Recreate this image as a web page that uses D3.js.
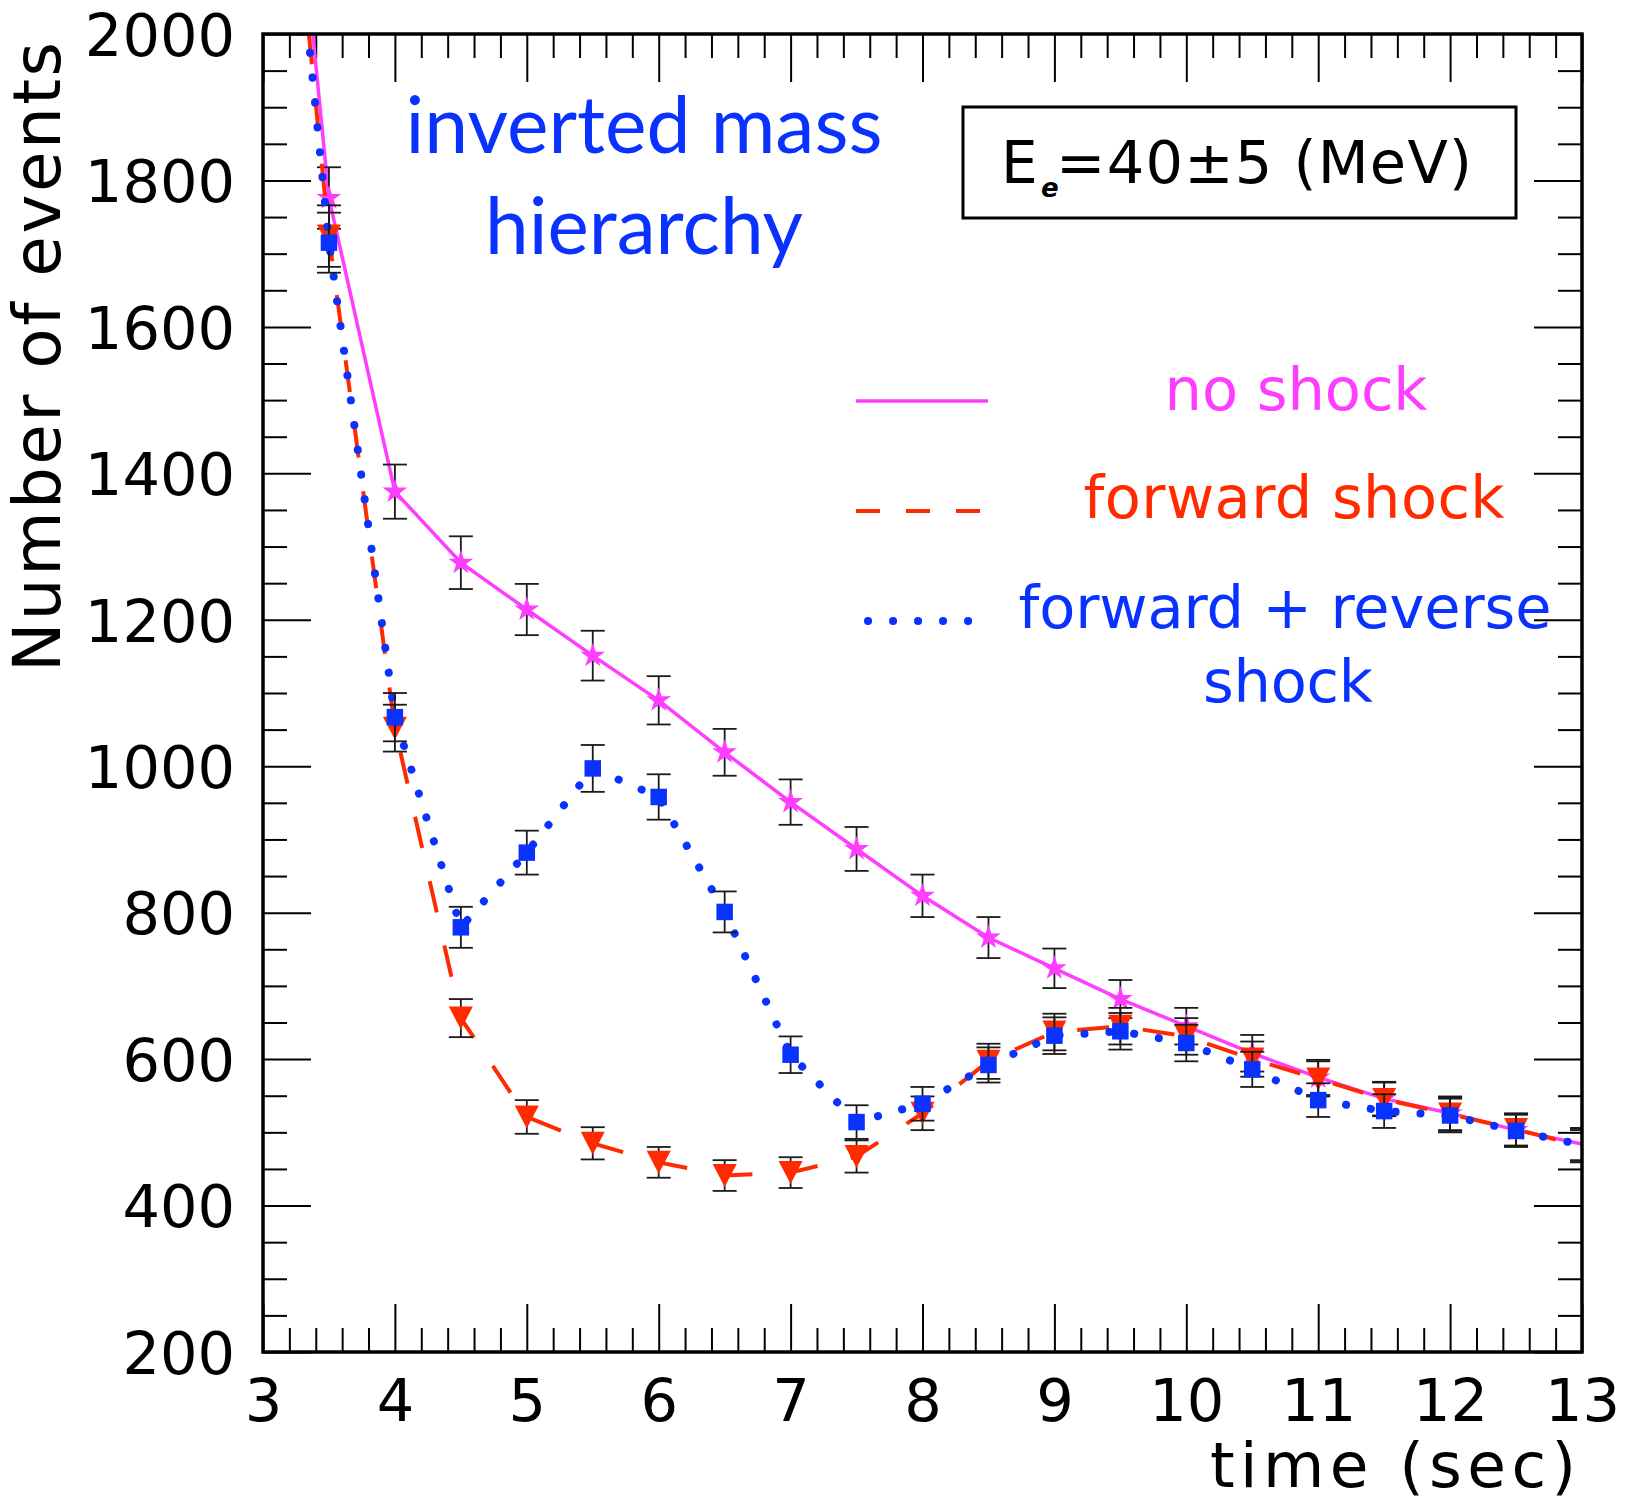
<!DOCTYPE html>
<html>
<head>
<meta charset="utf-8">
<script src="https://cdn.jsdelivr.net/npm/d3@7"></script>
<style>
  body { margin: 0; background: #fff; }
  svg { display: block; }
</style>
</head>
<body>
<div id="chart"></div>
<script>
// time bins (sec)
const times = [3, 3.5, 4, 4.5, 5, 5.5, 6, 6.5, 7, 7.5, 8, 8.5, 9, 9.5, 10, 10.5, 11, 11.5, 12, 12.5, 13];

// number of events per series
const noShock = [2690, 1776, 1375, 1278, 1214, 1151, 1090, 1019, 951, 887, 823, 766, 724, 682, 645, 608, 575, 546, 526, 503, 484];
const noShockErr = [52, 42, 37, 36, 35, 34, 33, 32, 31, 30, 29, 28, 27, 26, 25, 25, 24, 23, 23, 22, 22];

const forwardShock = [2630, 1724, 1052, 656, 521, 485, 459, 441, 445, 467, 526, 597, 637, 645, 631, 600, 573, 545, 525, 504, 481];
const forwardShockErr = [51, 42, 32, 26, 23, 22, 21, 21, 21, 22, 23, 24, 25, 25, 25, 24, 24, 23, 23, 22, 22];

const fwdRevShock = [2620, 1715, 1067, 780, 882, 997, 958, 801, 606, 514, 539, 592, 632, 638, 622, 586, 544, 529, 523, 502, 483];
const fwdRevShockErr = [51, 41, 33, 28, 30, 32, 31, 28, 25, 23, 23, 24, 25, 25, 25, 24, 23, 23, 23, 22, 22];

const xTicks = [3, 4, 5, 6, 7, 8, 9, 10, 11, 12, 13];
const yTicks = [200, 400, 600, 800, 1000, 1200, 1400, 1600, 1800, 2000];

const legendLabels = [["no shock"], ["forward shock"], ["forward + reverse", "shock"]];
const titleLines = ["inverted mass", "hierarchy"];

const W = 1633, H = 1504;
const margin = { top: 34, right: 51, bottom: 152, left: 263 };
const width = W - margin.left - margin.right;
const height = H - margin.top - margin.bottom;

const MAGENTA = "#ff3dff", RED = "#ff2a00", BLUE = "#0a32ff";
const FONT = "'DejaVu Sans', sans-serif";

const svg = d3.select("#chart").append("svg")
  .attr("width", W)
  .attr("height", H);

const g = svg.append("g")
  .attr("transform", "translate(" + margin.left + "," + margin.top + ")");

const x = d3.scaleLinear().domain([3, 13]).range([0, width]);
const y = d3.scaleLinear().domain([200, 2000]).range([height, 0]);

// minor tick positions
const xMinor = d3.range(3, 13.001, 0.2).filter(v => Math.abs(v - Math.round(v)) > 1e-6);
const yMinor = d3.range(200, 2001, 50).filter(v => v % 200 !== 0);

function tickAxis(axis, transform) {
  const a = g.append("g").attr("transform", transform).call(axis);
  a.select(".domain").remove();
  a.selectAll("line").attr("stroke", "#000").attr("stroke-width", 2);
  return a;
}

// labelled axes
const xAxis = tickAxis(d3.axisBottom(x).tickValues(xTicks).tickSize(-48).tickPadding(27).tickFormat(d3.format("d")),
  "translate(0," + height + ")");
const yAxis = tickAxis(d3.axisLeft(y).tickValues(yTicks).tickSize(-48).tickPadding(28).tickFormat(d3.format("d")),
  "translate(0,0)");
[xAxis, yAxis].forEach(a => a.selectAll("text")
  .attr("fill", "#000")
  .style("font-family", FONT)
  .style("font-size", "59px"));
yAxis.selectAll("text").attr("dy", "0.36em");

// minor ticks and mirrored ticks
tickAxis(d3.axisBottom(x).tickValues(xMinor).tickSize(-24).tickFormat(""), "translate(0," + height + ")");
tickAxis(d3.axisLeft(y).tickValues(yMinor).tickSize(-24).tickFormat(""), "translate(0,0)");
tickAxis(d3.axisTop(x).tickValues(xTicks).tickSize(-48).tickFormat(""), "translate(0,0)");
tickAxis(d3.axisTop(x).tickValues(xMinor).tickSize(-24).tickFormat(""), "translate(0,0)");
tickAxis(d3.axisRight(y).tickValues(yTicks).tickSize(-48).tickFormat(""), "translate(" + width + ",0)");
tickAxis(d3.axisRight(y).tickValues(yMinor).tickSize(-24).tickFormat(""), "translate(" + width + ",0)");

// clip
svg.append("defs").append("clipPath").attr("id", "plotClip")
  .append("rect").attr("x", 0).attr("y", 0).attr("width", width).attr("height", height);

const plot = g.append("g").attr("clip-path", "url(#plotClip)");

const starPath = d3.symbol(d3.symbolStar, 190)();
const squarePath = d3.symbol(d3.symbolSquare, 16.5 * 16.5)();
const triDownPath = "M-12,-11.5L12,-11.5L0,11.5Z";

const series = [
  { values: noShock, errors: noShockErr, color: MAGENTA, width: 3.5, dash: null, cap: "butt", legendDash: null, marker: starPath },
  { values: forwardShock, errors: forwardShockErr, color: RED, width: 4, dash: "32 34", cap: "butt", legendDash: "24 26", marker: triDownPath },
  { values: fwdRevShock, errors: fwdRevShockErr, color: BLUE, width: 8, dash: "0.1 24.9", cap: "round", legendDash: "0.1 24.9", marker: squarePath }
];

const line = d3.line()
  .x(d => x(d.t))
  .y(d => y(d.v));

series.forEach(s => {
  const pts = times.map((t, i) => ({ t: t, v: s.values[i], e: s.errors[i] }));
  const layer = plot.append("g");

  layer.append("path")
    .datum(pts)
    .attr("d", line)
    .attr("fill", "none")
    .attr("stroke", s.color)
    .attr("stroke-width", s.width)
    .attr("stroke-linecap", s.cap)
    .attr("stroke-dasharray", s.dash);

  const eb = layer.selectAll(".err").data(pts).enter().append("g")
    .attr("class", "err")
    .attr("stroke", "#1a1a1a")
    .attr("stroke-width", 1.8);
  eb.append("line")
    .attr("x1", d => x(d.t)).attr("x2", d => x(d.t))
    .attr("y1", d => y(d.v - d.e)).attr("y2", d => y(d.v + d.e));
  eb.append("line")
    .attr("x1", d => x(d.t) - 12).attr("x2", d => x(d.t) + 12)
    .attr("y1", d => y(d.v + d.e)).attr("y2", d => y(d.v + d.e));
  eb.append("line")
    .attr("x1", d => x(d.t) - 12).attr("x2", d => x(d.t) + 12)
    .attr("y1", d => y(d.v - d.e)).attr("y2", d => y(d.v - d.e));

  layer.selectAll(".mk").data(pts.filter(d => d.t > 3 && d.t < 13)).enter().append("path")
    .attr("class", "mk")
    .attr("d", s.marker)
    .attr("transform", d => "translate(" + x(d.t) + "," + y(d.v) + ")")
    .attr("fill", s.color);
});

// frame
g.append("rect")
  .attr("x", 0).attr("y", 0)
  .attr("width", width).attr("height", height)
  .attr("fill", "none")
  .attr("stroke", "#000")
  .attr("stroke-width", 3.5);

// axis titles
svg.append("text")
  .attr("x", 1576).attr("y", 1487)
  .attr("text-anchor", "end")
  .attr("textLength", 366)
  .style("font-family", FONT)
  .style("font-size", "63px")
  .text("time (sec)");

svg.append("text")
  .attr("transform", "translate(60,42) rotate(-90)")
  .attr("text-anchor", "end")
  .attr("textLength", 630)
  .style("font-family", FONT)
  .style("font-size", "66px")
  .text("Number of events");

// title
const titleWidths = [477, 318];
titleLines.forEach((t, i) => {
  svg.append("text")
    .attr("x", 644).attr("y", 153 + i * 101)
    .attr("text-anchor", "middle")
    .attr("textLength", titleWidths[i])
    .attr("lengthAdjust", "spacingAndGlyphs")
    .attr("fill", BLUE)
    .style("font-family", "Lato, sans-serif")
    .style("font-size", "80px")
    .text(t);
});

// energy box
svg.append("rect")
  .attr("x", 963).attr("y", 107)
  .attr("width", 553).attr("height", 111)
  .attr("fill", "none")
  .attr("stroke", "#000")
  .attr("stroke-width", 3);
svg.append("text")
  .attr("x", 1001).attr("y", 183)
  .style("font-family", FONT).style("font-size", "58px")
  .text("E");
svg.append("text")
  .attr("x", 1041).attr("y", 197)
  .style("font-family", FONT).style("font-size", "26px")
  .style("font-weight", "bold").style("font-style", "italic")
  .text("e");
svg.append("text")
  .attr("x", 1056).attr("y", 183)
  .attr("textLength", 416)
  .style("font-family", FONT).style("font-size", "59px")
  .text("=40\u00b15 (MeV)");

// legend
const legendRowY = [401, 511, 621];
const legendTextY = [410, 518, 628];
const legendCenters = [[1296], [1294], [1285, 1288]];
const legendWidths = [[263], [421], [533, 170]];
const legend = svg.append("g");
series.forEach((s, i) => {
  const x0 = s.cap === "round" ? 868 : 856;
  const x1 = s.cap === "round" ? 969 : (s.legendDash ? 981 : 988);
  legend.append("path")
    .attr("d", d3.line()([[x0, legendRowY[i]], [x1, legendRowY[i]]]))
    .attr("fill", "none")
    .attr("stroke", s.color)
    .attr("stroke-width", s.width)
    .attr("stroke-linecap", s.cap)
    .attr("stroke-dasharray", s.legendDash);
  legendLabels[i].forEach((lbl, j) => {
    legend.append("text")
      .attr("x", legendCenters[i][j]).attr("y", legendTextY[i] + j * 74)
      .attr("text-anchor", "middle")
      .attr("textLength", legendWidths[i][j])
      .attr("fill", s.color)
      .style("font-family", FONT)
      .style("font-size", "59px")
      .text(lbl);
  });
});
</script>
</body>
</html>
